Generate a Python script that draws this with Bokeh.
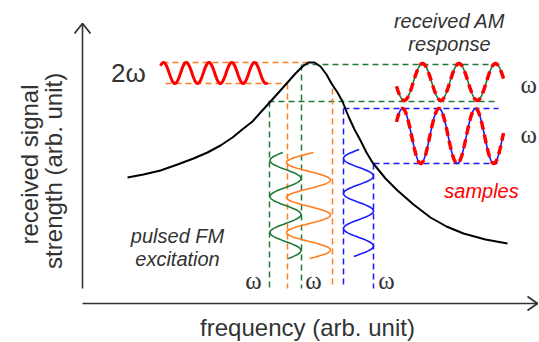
import numpy as np
from bokeh.plotting import figure
from bokeh.models import Range1d
from bokeh.embed import file_html
from bokeh.resources import INLINE
from bokeh.core.properties import value

# ---------------- data (reference pixel coordinates) ----------------
# resonance curve
curve_x = [127, 143, 160, 177, 193, 207, 220, 232, 243, 252, 260, 270, 279, 287, 295, 302, 308,
           314, 320, 326, 331, 337, 342, 348, 354, 360, 366, 372, 385, 397, 413, 430, 446, 463, 485, 507]
curve_y = [177, 174, 170, 164, 158, 152, 145, 137, 128, 121, 112, 101, 91, 82, 73, 66, 62,
           62, 66, 74, 83, 92, 101, 116, 129, 140, 152, 162, 178, 190, 204, 217, 226, 233, 239, 243]

# dashed guide lines: horizontal (x0, x1, y) and vertical (x, y0, y1)
h_x0 = [162, 165, 302, 268, 343, 373]
h_x1 = [308, 287, 502, 495, 498, 497]
h_y = [62, 83, 64, 101, 108, 163]
h_col = ["orange", "orange", "green", "green", "blue", "blue"]
v_x = [269, 301, 287, 332, 343, 373]
v_y0 = [101, 64, 83, 88, 108, 163]
v_y1 = [288, 288, 288, 288, 288, 288]
v_col = ["green", "green", "orange", "orange", "blue", "blue"]

# pulsed FM excitation (vertical waves)
fm_cx = [285, 308, 358]
fm_amp = [15.5, 22, 15]
fm_period = [36, 35, 35]
fm_first_left = [160, 162, 158]
fm_y0 = [152, 152, 149]
fm_y1 = [258, 258, 256]
fm_col = ["green", "orange", "blue"]

# received AM response (horizontal waves)
am_cy = [81.5, 135.5]
am_amp = [18.5, 27.5]
am_period = [36.5, 36.5]
am_first_top = [422, 402]
am_x0 = [396, 396]
am_x1 = [503, 503]
am_col = ["green", "blue"]

# 2 omega wave
tw_cy, tw_amp, tw_period, tw_first_top, tw_x0, tw_x1 = 72.5, 10.5, 22.75, 163, 160, 267

COLORS = {"green": "#1f7a3a", "orange": "#ff7f1e", "blue": "#1a1aff"}
TXT = "#333333"

# ---------------- figure ----------------
p = figure(width=539, height=342, x_range=Range1d(0, 539), y_range=Range1d(342, 0),
           output_backend="svg", toolbar_location=None, min_border=0)
p.axis.visible = False
p.grid.visible = False
p.outline_line_color = None
p.background_fill_color = "white"
p.border_fill_color = "white"

# axes
p.line([82, 82], [288, 23], line_color=TXT, line_width=1.6)
p.line([74, 82, 90], [33, 23, 33], line_color=TXT, line_width=1.8)
p.line([82, 537], [303, 303], line_color=TXT, line_width=1.6)
p.line([527, 537, 527], [296, 303, 310], line_color=TXT, line_width=1.8)

# dashed guides
p.multi_line([[a, b] for a, b in zip(h_x0, h_x1)], [[y, y] for y in h_y],
             line_color=[COLORS[c] for c in h_col], line_width=1.5, line_dash="6 4")
p.multi_line([[x, x] for x in v_x], [[a, b] for a, b in zip(v_y0, v_y1)],
             line_color=[COLORS[c] for c in v_col], line_width=1.5, line_dash="6 4")

# resonance curve
p.line(curve_x, curve_y, line_color="black", line_width=2)

# FM excitation waves
for cx, A, P, yl, y0, y1, c in zip(fm_cx, fm_amp, fm_period, fm_first_left, fm_y0, fm_y1, fm_col):
    yy = np.linspace(y0, y1, 200)
    xx = cx - A * np.cos(2 * np.pi * (yy - yl) / P)
    p.line(xx, yy, line_color=COLORS[c], line_width=1.6)

# AM response waves with red sample dashes
for cy, A, P, xt, x0, x1, c in zip(am_cy, am_amp, am_period, am_first_top, am_x0, am_x1, am_col):
    xx = np.linspace(x0, x1, 200)
    yy = cy - A * np.cos(2 * np.pi * (xx - xt) / P)
    p.line(xx, yy, line_color=COLORS[c], line_width=1.6)
    p.line(xx, yy, line_color="#ff0000", line_width=3.5, line_dash="9 5")

# 2 omega wave
xx = np.linspace(tw_x0, tw_x1, 200)
yy = tw_cy - tw_amp * np.cos(2 * np.pi * (xx - tw_first_top) / tw_period)
p.line(xx, yy, line_color="#ff0000", line_width=3)

# texts
sans = value("Liberation Sans")
serif = value("Liberation Serif")
p.text([128], [72], text=["2ω"], text_font=sans, text_font_size="26px", text_color=TXT,
       text_align="center", text_baseline="middle")
p.text([253, 313, 386], [280, 280, 280], text=["ω", "ω", "ω"], text_font=serif,
       text_font_size="25px", text_color=TXT, text_align="center", text_baseline="middle")
p.text([520, 520], [84, 134], text=["ω", "ω"], text_font=serif,
       text_font_size="25px", text_color=TXT, text_align="left", text_baseline="middle")
p.text([449, 449], [20, 43], text=["received AM", "response"], text_font=sans,
       text_font_style="italic", text_font_size="20px", text_color=TXT,
       text_align="center", text_baseline="middle")
p.text([481], [190], text=["samples"], text_font=sans, text_font_style="italic",
       text_font_size="20px", text_color="#ff0000", text_align="center", text_baseline="middle")
p.text([177, 177], [235, 258], text=["pulsed FM", "excitation"], text_font=sans,
       text_font_style="italic", text_font_size="20px", text_color=TXT,
       text_align="center", text_baseline="middle")
p.text([307], [327], text=["frequency (arb. unit)"], text_font=sans, text_font_size="24px",
       text_color=TXT, text_align="center", text_baseline="middle")
p.text([29, 53], [164, 167], text=["received signal", "strength  (arb. unit)"], text_font=sans,
       text_font_size="24px", text_color=TXT, text_align="center", text_baseline="middle",
       angle=np.pi / 2)

open("out.html", "w").write(file_html(p, INLINE))
